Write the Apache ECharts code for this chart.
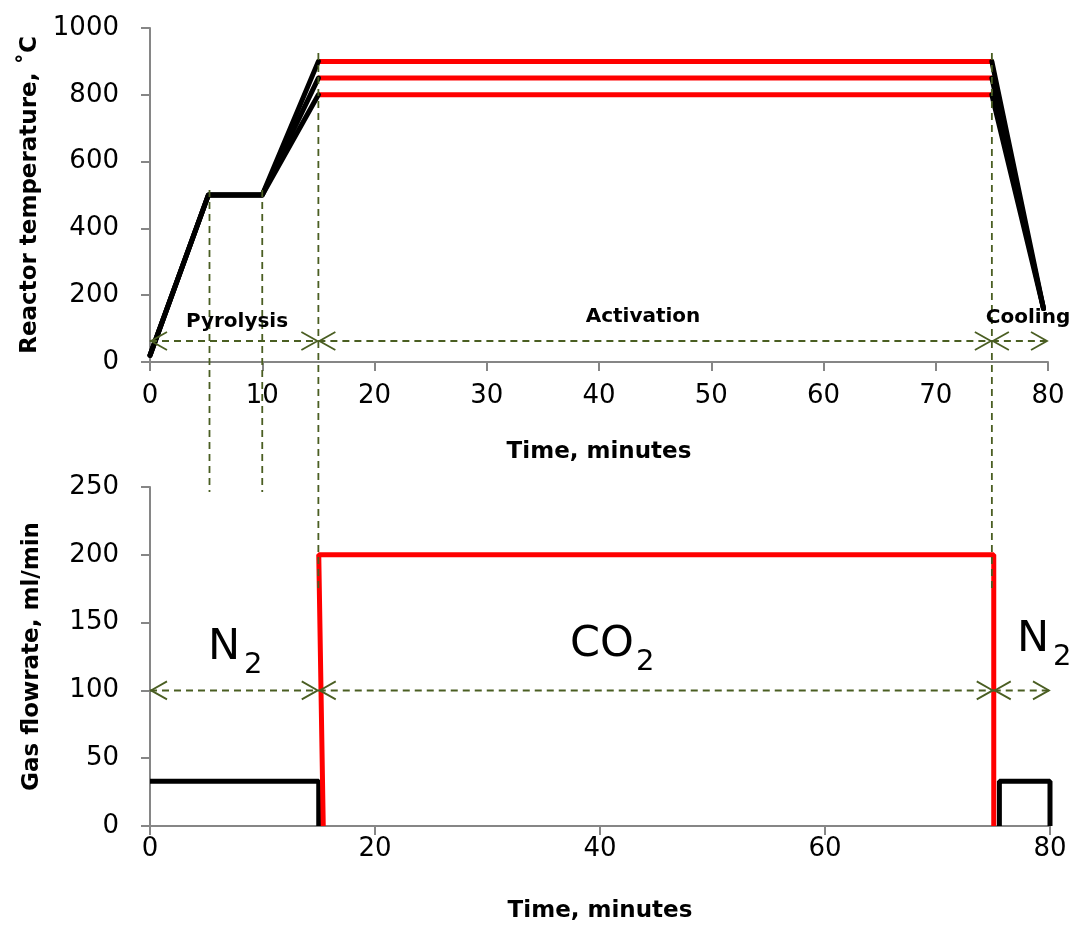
<!DOCTYPE html>
<html>
<head>
<meta charset="utf-8">
<script src="https://cdn.jsdelivr.net/npm/echarts@6/dist/echarts.min.js"></script>
<style>
html,body{margin:0;padding:0;background:#fff;}
#chart{width:1074px;height:927px;}
</style>
</head>
<body>
<div id="chart"></div>
<script>
// ---------- data ----------
// Top panel: reactor temperature (°C) vs time (min)
const setpointTemps = [900, 850, 800];
const heatTimes = [0, 5.2, 10];
const heatTemps = [20, 500, 500];
const activationStart = 15;
const activationEnd = 75;
const coolEndTime = 79.6;
const coolEndTemp = 160;

// Bottom panel: gas flowrate (ml/min) vs time (min)
const n2StartTimes = [0, 15, 15];
const n2StartFlows = [33, 33, 0];
const co2Times = [15.4, 15, 75, 75];
const co2Flows = [0, 200, 200, 0];
const n2EndTimes = [75.5, 75.5, 80, 80];
const n2EndFlows = [0, 33, 33, 0];

// Tick settings
const topXTicks = [0, 10, 20, 30, 40, 50, 60, 70, 80];
const topYTicks = [0, 200, 400, 600, 800, 1000];
const botXTicks = [0, 20, 40, 60, 80];
const botYTicks = [0, 50, 100, 150, 200, 250];

// Phase arrows [from, to, level]
const tempPhaseArrows = [[0, 15, 63], [15, 75, 63], [75, 80, 63]];
const flowPhaseArrows = [[0, 15, 100], [15, 75, 100], [75, 80, 100]];
// Vertical guide lines [time, upper temp, lower temp (extends below panel)]
const guideLines = [[5.3, 515, -389], [10, 515, -389], [15, 925, -689], [75, 925, -689]];

// ---------- helpers ----------
const zip = (xs, ys) => xs.map((x, i) => [x, ys[i]]);
const GUIDE = '#4a5e22';
const AXIS = '#868686';
const FONT = 'DejaVu Sans';

const series = [];
setpointTemps.forEach(sp => {
  series.push({
    type: 'line', xAxisIndex: 0, yAxisIndex: 0, showSymbol: false, clip: false,
    data: zip(heatTimes, heatTemps).concat([[activationStart, sp]]),
    lineStyle: {color: '#000', width: 5, cap: 'round', join: 'round'}, z: 3
  });
  series.push({
    type: 'line', xAxisIndex: 0, yAxisIndex: 0, showSymbol: false, clip: false,
    data: [[activationStart, sp], [activationEnd, sp]],
    lineStyle: {color: '#ff0000', width: 5}, z: 2
  });
  series.push({
    type: 'line', xAxisIndex: 0, yAxisIndex: 0, showSymbol: false, clip: false,
    data: [[activationEnd, sp], [coolEndTime, coolEndTemp]],
    lineStyle: {color: '#000', width: 5, cap: 'round', join: 'round'}, z: 3
  });
});

series.push({
  type: 'line', xAxisIndex: 1, yAxisIndex: 1, showSymbol: false, clip: false,
  data: zip(n2StartTimes, n2StartFlows),
  lineStyle: {color: '#000', width: 5}, z: 2
});
series.push({
  type: 'line', xAxisIndex: 1, yAxisIndex: 1, showSymbol: false, clip: false,
  data: zip(co2Times, co2Flows),
  lineStyle: {color: '#ff0000', width: 5}, z: 3
});
series.push({
  type: 'line', xAxisIndex: 1, yAxisIndex: 1, showSymbol: false, clip: false,
  data: zip(n2EndTimes, n2EndFlows),
  lineStyle: {color: '#000', width: 5}, z: 2
});

function arrowRender(params, api) {
  const p1 = api.coord([api.value(0), api.value(2)]);
  const p2 = api.coord([api.value(1), api.value(2)]);
  const L = 17, H = 9;
  const st = {stroke: GUIDE, lineWidth: 1.8, fill: null};
  return {
    type: 'group',
    children: [
      {type: 'line', shape: {x1: p1[0], y1: p1[1], x2: p2[0], y2: p2[1]},
       style: {stroke: GUIDE, lineWidth: 2, lineDash: [7, 5]}},
      {type: 'polyline', shape: {points: [[p1[0] + L, p1[1] - H], [p1[0] + 1, p1[1]], [p1[0] + L, p1[1] + H]]}, style: st},
      {type: 'polyline', shape: {points: [[p2[0] - L, p2[1] - H], [p2[0] - 1, p2[1]], [p2[0] - L, p2[1] + H]]}, style: st}
    ]
  };
}
series.push({
  type: 'custom', xAxisIndex: 0, yAxisIndex: 0, clip: false, z: 10,
  data: tempPhaseArrows, renderItem: arrowRender
});
series.push({
  type: 'custom', xAxisIndex: 1, yAxisIndex: 1, clip: false, z: 10,
  data: flowPhaseArrows, renderItem: arrowRender
});
series.push({
  type: 'custom', xAxisIndex: 0, yAxisIndex: 0, clip: false, z: 10,
  data: guideLines,
  renderItem: function (params, api) {
    const a = api.coord([api.value(0), api.value(1)]);
    const b = api.coord([api.value(0), api.value(2)]);
    return {type: 'line', shape: {x1: a[0], y1: a[1], x2: b[0], y2: b[1]},
            style: {stroke: GUIDE, lineWidth: 1.8, lineDash: [7, 5]}};
  }
});

const tickLabel = {color: '#000', fontFamily: FONT, fontSize: 26, formatter: v => String(v)};
const nameStyle = {color: '#000', fontFamily: FONT, fontSize: 23, fontWeight: 'bold'};
const axisLine = {show: true, onZero: false, lineStyle: {color: AXIS, width: 2}};
const axisTick = {show: true, inside: false, length: 9, lineStyle: {color: AXIS, width: 2}};
const annot = 'bold 20px "DejaVu Sans"';
const big = '43px "DejaVu Sans"';
const sub = '29px "DejaVu Sans"';

const option = {
  animation: false,
  backgroundColor: '#fff',
  grid: [
    {left: 150, right: 26, top: 28, height: 334},
    {left: 150, right: 24, top: 487, height: 339}
  ],
  xAxis: [
    {type: 'value', gridIndex: 0, min: topXTicks[0], max: topXTicks[topXTicks.length - 1], interval: 10,
     name: 'Time, minutes', nameLocation: 'middle', nameGap: 79, nameTextStyle: nameStyle,
     axisLine, axisTick, splitLine: {show: false}, axisLabel: Object.assign({margin: 21}, tickLabel)},
    {type: 'value', gridIndex: 1, min: botXTicks[0], max: botXTicks[botXTicks.length - 1], interval: 20,
     name: 'Time, minutes', nameLocation: 'middle', nameGap: 74, nameTextStyle: nameStyle,
     axisLine, axisTick, splitLine: {show: false}, axisLabel: Object.assign({margin: 10}, tickLabel)}
  ],
  yAxis: [
    {type: 'value', gridIndex: 0, min: topYTicks[0], max: topYTicks[topYTicks.length - 1], interval: 200,
     name: 'Reactor temperature, ˚C', nameLocation: 'middle', nameGap: 106, nameTextStyle: nameStyle,
     axisLine, axisTick, splitLine: {show: false}, axisLabel: Object.assign({margin: 31}, tickLabel)},
    {type: 'value', gridIndex: 1, min: botYTicks[0], max: botYTicks[botYTicks.length - 1], interval: 50,
     name: 'Gas flowrate, ml/min', nameLocation: 'middle', nameGap: 106, nameTextStyle: nameStyle,
     axisLine, axisTick, splitLine: {show: false}, axisLabel: Object.assign({margin: 31}, tickLabel)}
  ],
  graphic: [
    {type: 'text', x: 237, y: 322, style: {text: 'Pyrolysis', fill: '#000', font: annot, textAlign: 'center', textVerticalAlign: 'middle'}, z: 20},
    {type: 'text', x: 643, y: 317, style: {text: 'Activation', fill: '#000', font: annot, textAlign: 'center', textVerticalAlign: 'middle'}, z: 20},
    {type: 'text', x: 1028, y: 318, style: {text: 'Cooling', fill: '#000', font: annot, textAlign: 'center', textVerticalAlign: 'middle'}, z: 20},
    {type: 'text', x: 208, y: 648, style: {text: 'N', fill: '#000', font: big, textAlign: 'left', textVerticalAlign: 'middle'}, z: 20},
    {type: 'text', x: 244, y: 665, style: {text: '2', fill: '#000', font: sub, textAlign: 'left', textVerticalAlign: 'middle'}, z: 20},
    {type: 'text', x: 570, y: 645, style: {text: 'CO', fill: '#000', font: big, textAlign: 'left', textVerticalAlign: 'middle'}, z: 20},
    {type: 'text', x: 636, y: 662, style: {text: '2', fill: '#000', font: sub, textAlign: 'left', textVerticalAlign: 'middle'}, z: 20},
    {type: 'text', x: 1017, y: 640, style: {text: 'N', fill: '#000', font: big, textAlign: 'left', textVerticalAlign: 'middle'}, z: 20},
    {type: 'text', x: 1053, y: 657, style: {text: '2', fill: '#000', font: sub, textAlign: 'left', textVerticalAlign: 'middle'}, z: 20}
  ],
  series
};

const chart = echarts.init(document.getElementById('chart'), null, {renderer: 'canvas'});
chart.setOption(option);
</script>
</body>
</html>
